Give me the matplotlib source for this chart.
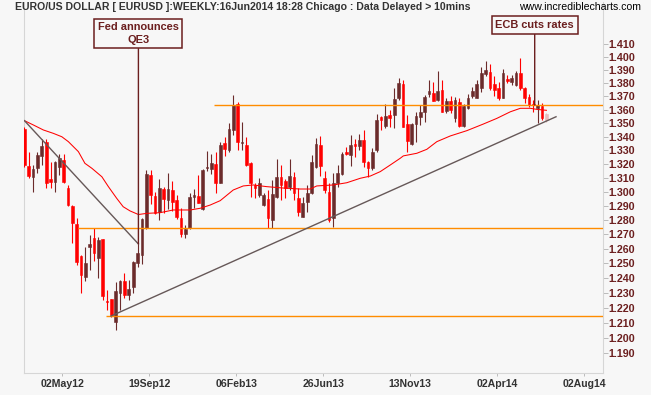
import matplotlib
matplotlib.use("Agg")
import matplotlib.pyplot as plt
import matplotlib.ticker as mticker
import numpy as np

# weekly EUR/USD bars, first bar = week ending 02 Mar 2012, last = current week
opens = [1.3457, 1.3189, 1.3109, 1.3174, 1.3261, 1.3359, 1.3093, 1.3069, 1.3182, 1.3230,
         1.3026, 1.2900, 1.2773, 1.2550, 1.2409, 1.2615, 1.2675, 1.2539, 1.2669, 1.2244,
         1.2256, 1.2106, 1.2300, 1.2380, 1.2285, 1.2342, 1.2505, 1.2557, 1.2743, 1.3122,
         1.2971, 1.2860, 1.3019, 1.2943, 1.3014, 1.2943, 1.2813, 1.2703, 1.2743, 1.2962,
         1.2971, 1.2877, 1.3172, 1.3165, 1.3201, 1.3066, 1.3356, 1.3303, 1.3450, 1.3643,
         1.3356, 1.3340, 1.3206, 1.3050, 1.2978, 1.2907, 1.2950, 1.2801, 1.2966, 1.3105,
         1.3081, 1.3033, 1.3105, 1.2955, 1.2825, 1.2930, 1.2990, 1.3182, 1.3340, 1.3098,
         1.3002, 1.2817, 1.3062, 1.3129, 1.3284, 1.3267, 1.3345, 1.3335, 1.3376, 1.3213,
         1.3170, 1.3303, 1.3548, 1.3481, 1.3560, 1.3560, 1.3686, 1.3792, 1.3492, 1.3345,
         1.3492, 1.3548, 1.3581, 1.3716, 1.3723, 1.3674, 1.3748, 1.3590, 1.3662, 1.3537,
         1.3658, 1.3481, 1.3611, 1.3705, 1.3691, 1.3762, 1.3868, 1.3884, 1.3792, 1.3762,
         1.3691, 1.3830, 1.3807, 1.3786, 1.3875, 1.3762, 1.3698, 1.3640, 1.3611, 1.3631,
         1.3527]
highs = [1.3474, 1.3291, 1.3194, 1.3291, 1.3381, 1.3381, 1.3213, 1.3223, 1.3274, 1.3274,
         1.3050, 1.2905, 1.2813, 1.2555, 1.2615, 1.2698, 1.2743, 1.2685, 1.2672, 1.2319,
         1.2259, 1.2375, 1.2387, 1.2432, 1.2387, 1.2515, 1.2639, 1.2813, 1.3157, 1.3157,
         1.3002, 1.3091, 1.3033, 1.3138, 1.3081, 1.2978, 1.2884, 1.2766, 1.2995, 1.3023,
         1.3119, 1.3164, 1.3298, 1.3274, 1.3291, 1.3364, 1.3400, 1.3499, 1.3711, 1.3660,
         1.3511, 1.3400, 1.3218, 1.3062, 1.3098, 1.2990, 1.3014, 1.3086, 1.3235, 1.3194,
         1.3091, 1.3235, 1.3146, 1.3026, 1.2962, 1.3050, 1.3267, 1.3389, 1.3408, 1.3150,
         1.3062, 1.3134, 1.3194, 1.3287, 1.3327, 1.3413, 1.3385, 1.3420, 1.3452, 1.3222,
         1.3315, 1.3568, 1.3556, 1.3640, 1.3598, 1.3762, 1.3837, 1.3824, 1.3560, 1.3499,
         1.3585, 1.3636, 1.3711, 1.3824, 1.3811, 1.3893, 1.3824, 1.3686, 1.3701, 1.3698,
         1.3691, 1.3640, 1.3716, 1.3773, 1.3824, 1.3925, 1.3967, 1.3945, 1.3856, 1.3810,
         1.3905, 1.3865, 1.3860, 1.3890, 1.3993, 1.3772, 1.3716, 1.3670, 1.3674, 1.3648,
         1.3574]
lows = [1.3182, 1.3098, 1.3002, 1.3134, 1.3194, 1.3026, 1.3026, 1.2998, 1.3122, 1.3066,
        1.2902, 1.2639, 1.2488, 1.2300, 1.2382, 1.2455, 1.2518, 1.2398, 1.2251, 1.2184,
        1.2139, 1.2052, 1.2184, 1.2263, 1.2251, 1.2296, 1.2478, 1.2494, 1.2740, 1.2911,
        1.2844, 1.2801, 1.2853, 1.2877, 1.2867, 1.2805, 1.2685, 1.2673, 1.2736, 1.2884,
        1.2919, 1.2872, 1.3147, 1.3129, 1.2995, 1.3062, 1.3261, 1.3291, 1.3413, 1.3303,
        1.3303, 1.3187, 1.2966, 1.2955, 1.2962, 1.2900, 1.2743, 1.2743, 1.2955, 1.2943,
        1.2955, 1.3014, 1.2943, 1.2830, 1.2820, 1.2860, 1.2985, 1.3170, 1.3114, 1.2990,
        1.2790, 1.2755, 1.3038, 1.3122, 1.3267, 1.3189, 1.3250, 1.3300, 1.3182, 1.3109,
        1.3160, 1.3290, 1.3450, 1.3462, 1.3474, 1.3462, 1.3674, 1.3474, 1.3291, 1.3340,
        1.3364, 1.3487, 1.3511, 1.3698, 1.3662, 1.3662, 1.3581, 1.3574, 1.3574, 1.3511,
        1.3474, 1.3474, 1.3606, 1.3685, 1.3686, 1.3737, 1.3855, 1.3750, 1.3705, 1.3672,
        1.3686, 1.3800, 1.3785, 1.3775, 1.3750, 1.3648, 1.3623, 1.3585, 1.3503, 1.3524,
        1.3511]
closes = [1.3194, 1.3117, 1.3165, 1.3267, 1.3334, 1.3062, 1.3073, 1.3213, 1.3242, 1.3069,
          1.2907, 1.2778, 1.2507, 1.2421, 1.2501, 1.2634, 1.2574, 1.2662, 1.2278, 1.2237,
          1.2150, 1.2312, 1.2380, 1.2285, 1.2326, 1.2512, 1.2574, 1.2808, 1.3129, 1.2978,
          1.2849, 1.3026, 1.2948, 1.3021, 1.2930, 1.2820, 1.2703, 1.2738, 1.2966, 1.2978,
          1.2923, 1.3157, 1.3176, 1.3211, 1.3066, 1.3340, 1.3310, 1.3455, 1.3635, 1.3364,
          1.3364, 1.3194, 1.3062, 1.3026, 1.3066, 1.2978, 1.2813, 1.2985, 1.3105, 1.3050,
          1.3026, 1.3114, 1.2990, 1.2860, 1.2919, 1.2990, 1.3218, 1.3345, 1.3187, 1.3014,
          1.2801, 1.3062, 1.3138, 1.3274, 1.3277, 1.3340, 1.3335, 1.3376, 1.3218, 1.3170,
          1.3291, 1.3524, 1.3524, 1.3553, 1.3540, 1.3681, 1.3799, 1.3474, 1.3369, 1.3492,
          1.3553, 1.3581, 1.3698, 1.3741, 1.3669, 1.3741, 1.3585, 1.3662, 1.3598, 1.3674,
          1.3481, 1.3631, 1.3691, 1.3738, 1.3792, 1.3875, 1.3900, 1.3762, 1.3749, 1.3686,
          1.3875, 1.3820, 1.3837, 1.3875, 1.3762, 1.3691, 1.3636, 1.3634, 1.3636, 1.3537,
          1.3567]

# red average line (bar index, price)
ma_x = [0, 2.05, 4.35, 6.65, 8.6, 10.1, 12.4, 13.9, 15.5, 17.8, 19.3, 21.2, 22.7, 24.3,
        26.2, 28.1, 31.2, 34.2, 38.1, 40.4, 42.7, 45.0, 48.0, 50.3, 52.6, 55.7, 59.5,
        63.4, 65.7, 67.2, 71.0, 74.1, 77.2, 79.5, 81.8, 84.1, 86.4, 87.1, 90.2, 92.5,
        94.8, 97.9, 101.7, 105.5, 108.6, 111.7, 114.0, 116.3, 117.8, 120.0]
ma_y = [1.3519, 1.3487, 1.3450, 1.3425, 1.3400, 1.3364, 1.3291, 1.3206, 1.3170, 1.3109,
        1.3038, 1.2955, 1.2895, 1.2865, 1.2840, 1.2848, 1.2853, 1.2872, 1.2872, 1.2884,
        1.2907, 1.2938, 1.3014, 1.3043, 1.3050, 1.3038, 1.3028, 1.3021, 1.3021, 1.3043,
        1.3050, 1.3066, 1.3098, 1.3114, 1.3146, 1.3194, 1.3243, 1.3260, 1.3279, 1.3308,
        1.3364, 1.3406, 1.3445, 1.3494, 1.3536, 1.3585, 1.3611, 1.3611, 1.3603, 1.3596]

# horizontal support / resistance lines: level and first bar
levels = [1.3636, 1.2746, 1.2146]
level_start = [43.6, 12.2, 18.8]

# trend lines (bar index pairs, price pairs)
trend_x = [[0, 26.2], [19.9, 122.2]]
trend_y = [[1.3519, 1.2634], [1.2144, 1.3548]]

xtick_pos = [8.7, 28.7, 48.7, 68.7, 88.7, 108.7, 128.7]
xtick_labels = ["02May12", "19Sep12", "06Feb13", "26Jun13", "13Nov13", "02Apr14", "02Aug14"]
ytick_vals = [round(1.19 + 0.01 * k, 2) for k in range(23)]

BG = "#f7f7f7"
RED = "#ff0000"
BROWN = "#6b2b2b"
PINK = "#e6bcbc"
ORANGE = "#ff8c00"
MAROON = "#6b1e1e"
GRID = "#d6d6d6"
FONT = "Liberation Sans"

fig = plt.figure(figsize=(6.51, 3.95), dpi=100, facecolor=BG)
ax = fig.add_axes([24 / 651, 22 / 395, 579 / 651, 371 / 395], facecolor=BG)

o = np.array(opens)
h = np.array(highs)
l = np.array(lows)
c = np.array(closes)
x = np.arange(len(c))
cols = np.where(c >= o, BROWN, RED).astype(object)
cols[-1] = PINK

ax.set_yscale("log")
ax.set_xlim(-0.1, 133.0)
ax.set_ylim(1.1770, 1.4429)

ax.vlines(x, l, h, colors=list(cols), lw=0.8, zorder=3)
body_h = np.maximum(np.abs(c - o), 0.0008)
ax.bar(x, body_h, bottom=np.minimum(o, c), width=0.62, color=list(cols),
       edgecolor=list(cols), lw=0.4, zorder=4)

ax.plot(ma_x, ma_y, color=RED, lw=0.75, zorder=5)

xmax = ax.get_xlim()[1]
for lev, st in zip(levels, level_start):
    ax.hlines(lev, st, xmax, color=ORANGE, lw=1.0, zorder=5)

for tx, ty in zip(trend_x, trend_y):
    ax.plot(tx, ty, color="#665858", lw=1.0, zorder=5)

# event call-outs
box = dict(boxstyle="square,pad=0.33", fc=BG, ec=MAROON, lw=1.1)
ax.annotate("Fed announces\nQE3", xy=(26.2, 1.2634), xytext=(26.2, 1.4183),
            ha="center", va="center", color=MAROON, fontsize=7.9, fontweight="bold",
            family=FONT, linespacing=1.3, bbox=box, zorder=6,
            arrowprops=dict(arrowstyle="-", color=MAROON, lw=1.0, shrinkA=0, shrinkB=0))
ax.annotate("ECB cuts rates", xy=(117.3, 1.3636), xytext=(117.3, 1.4248),
            ha="center", va="center", color=MAROON, fontsize=7.9, fontweight="bold",
            family=FONT, bbox=box, zorder=6,
            arrowprops=dict(arrowstyle="-", color=MAROON, lw=1.0, shrinkA=0, shrinkB=0))

# axes styling
for side in ["left", "bottom", "right"]:
    ax.spines[side].set_color(GRID)
    ax.spines[side].set_linewidth(0.8)
ax.spines["top"].set_visible(False)

ax.yaxis.tick_right()
ax.yaxis.set_major_locator(mticker.FixedLocator(ytick_vals))
ax.yaxis.set_minor_locator(mticker.NullLocator())
ax.yaxis.set_major_formatter(mticker.FormatStrFormatter("%.3f"))
ax.tick_params(axis="y", which="major", direction="out", length=3.5, width=0.7,
               color="#bbbbbb", pad=0.5, labelsize=7.7, labelcolor=MAROON)
ax.set_xticks(xtick_pos)
ax.set_xticklabels(xtick_labels)
ax.tick_params(axis="x", direction="out", length=2.5, width=0.7, color="#bbbbbb",
               pad=2.0, labelsize=7.6, labelcolor="#333333")
for lab in ax.get_xticklabels() + ax.get_yticklabels():
    lab.set_fontweight("bold")
    lab.set_family(FONT)

fig.text(15 / 651, 1 - 7.5 / 395,
         "EURO/US DOLLAR [ EURUSD ]:WEEKLY:16Jun2014 18:28 Chicago : Data Delayed > 10mins",
         ha="left", va="center", fontsize=7.6, fontweight="bold", color="#333333", family=FONT)
fig.text(519 / 651, 1 - 7.5 / 395, "www.incrediblecharts.com", ha="left", va="center",
         fontsize=7.6, color="#000000", family=FONT)

fig.savefig("out.png", dpi=100, facecolor=BG)
